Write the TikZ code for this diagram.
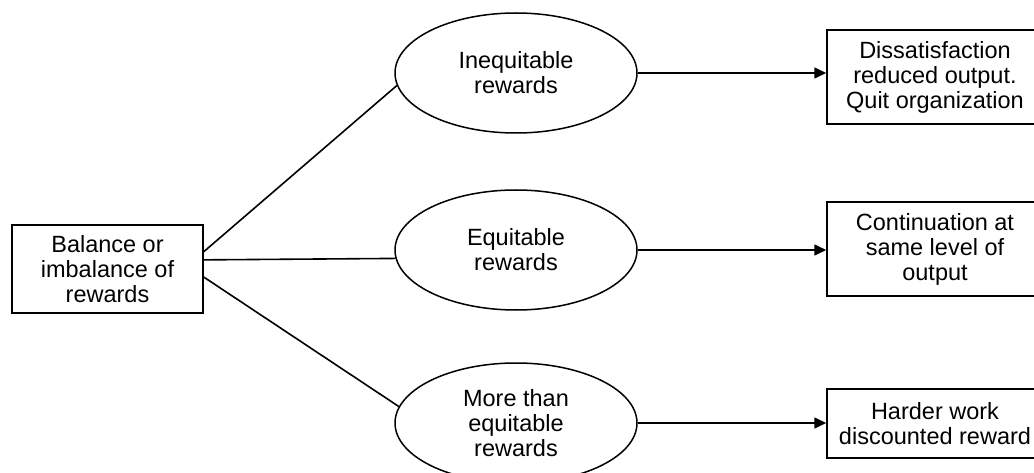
\documentclass[tikz,border=0pt]{standalone}
\usepackage{fontspec}
\setmainfont{Liberation Sans}
\usetikzlibrary{shapes.geometric,arrows.meta,calc}
\begin{document}
\begin{tikzpicture}[x=1pt,y=-1pt,
  every node/.style={font=\fontsize{23.5}{25}\selectfont, align=center, inner sep=0pt},
  sbox/.style={draw, line width=1.5pt, rectangle},
  oval/.style={draw, line width=1.5pt, ellipse, minimum width=242pt, minimum height=120pt},
  conn/.style={line width=1.6pt},
  arr/.style={line width=1.6pt, -{Triangle[length=12pt,width=11pt]}}]
\useasboundingbox (0,0) rectangle (1034,473);
\node[sbox, minimum width=191pt, minimum height=88pt] (lb) at (107.5,269) {Balance or\\imbalance of\\rewards};
\node[oval] (e1) at (516,73) {Inequitable\\rewards};
\node[oval] (e2) at (516,250) {Equitable\\rewards};
\node[oval] (e3) at (516,423) {More than\\equitable\\rewards};
\node[sbox, minimum width=216pt, minimum height=94pt] (r1) at (935,77) {Dissatisfaction\\reduced output.\\Quit organization};
\node[sbox, minimum width=216pt, minimum height=94pt] (r2) at (935,249) {Continuation at\\same level of\\output};
\node[sbox, minimum width=216pt, minimum height=69pt] (r3) at (935,423.5) {Harder work\\discounted reward};
\draw[conn] ($(lb.north east)!0.307!(lb.south east)$) -- (e1.186);
\draw[conn] ($(lb.north east)!0.398!(lb.south east)$) -- (e2.184.7);
\draw[conn] ($(lb.north east)!0.59!(lb.south east)$) -- (e3.172.3);
\draw[arr] (e1.east) -- (e1.east -| r1.west);
\draw[arr] (e2.east) -- (e2.east -| r2.west);
\draw[arr] (e3.east) -- (e3.east -| r3.west);
\end{tikzpicture}
\end{document}
